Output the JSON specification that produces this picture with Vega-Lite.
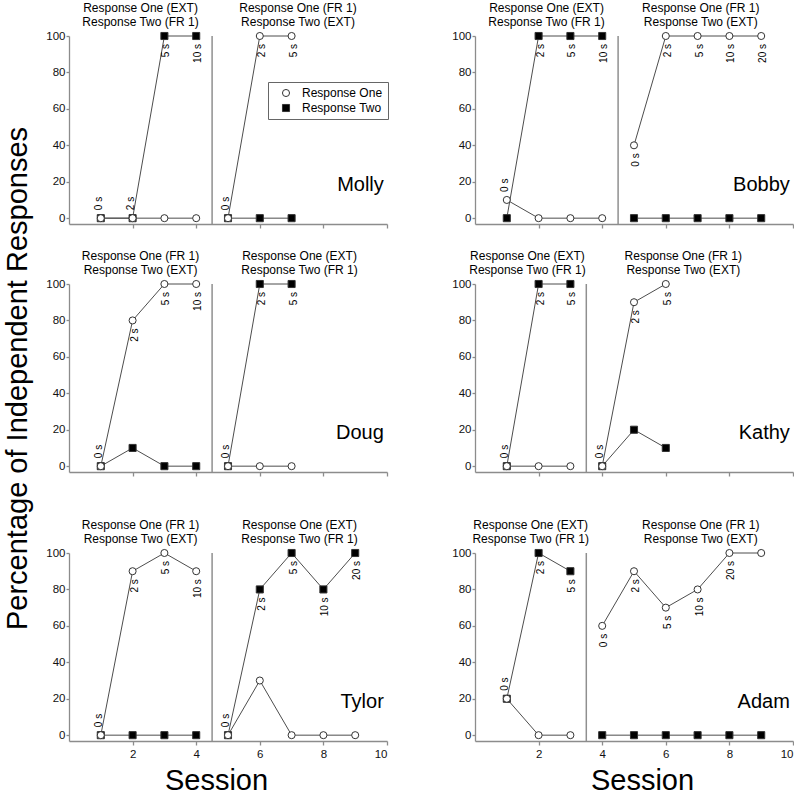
{
  "$schema": "https://vega.github.io/schema/vega-lite/v6.json",
  "background": "white",
  "padding": {"top": 2, "left": 3, "right": 0, "bottom": 0},
  "title": {"text": "Percentage of Independent Responses", "orient": "left", "anchor": "middle", "fontSize": 29, "fontWeight": "normal", "font": "Liberation Sans", "color": "#000000", "offset": 13, "dx": 20},
  "datasets": {
    "phases": [
      {"participant": "Molly", "session": 4.5},
      {"participant": "Bobby", "session": 4.5},
      {"participant": "Doug", "session": 4.5},
      {"participant": "Kathy", "session": 3.5},
      {"participant": "Tylor", "session": 4.5},
      {"participant": "Adam", "session": 3.5}
    ],
    "labels": [
      {"participant": "Molly", "session": 2.25, "text": "Response One (EXT)|Response Two (FR 1)"},
      {"participant": "Molly", "session": 7.2, "text": "Response One (FR 1)|Response Two (EXT)"},
      {"participant": "Bobby", "session": 2.25, "text": "Response One (EXT)|Response Two (FR 1)"},
      {"participant": "Bobby", "session": 7.1, "text": "Response One (FR 1)|Response Two (EXT)"},
      {"participant": "Doug", "session": 2.25, "text": "Response One (FR 1)|Response Two (EXT)"},
      {"participant": "Doug", "session": 7.25, "text": "Response One (EXT)|Response Two (FR 1)"},
      {"participant": "Kathy", "session": 1.65, "text": "Response One (EXT)|Response Two (FR 1)"},
      {"participant": "Kathy", "session": 6.55, "text": "Response One (FR 1)|Response Two (EXT)"},
      {"participant": "Tylor", "session": 2.25, "text": "Response One (FR 1)|Response Two (EXT)"},
      {"participant": "Tylor", "session": 7.25, "text": "Response One (EXT)|Response Two (FR 1)"},
      {"participant": "Adam", "session": 1.75, "text": "Response One (EXT)|Response Two (FR 1)"},
      {"participant": "Adam", "session": 7.1, "text": "Response One (FR 1)|Response Two (EXT)"}
    ],
    "delays": [
      {"participant": "Molly", "session": 1, "value": 0, "label": "0 s", "side": "above"},
      {"participant": "Molly", "session": 2, "value": 0, "label": "2 s", "side": "above"},
      {"participant": "Molly", "session": 3, "value": 100, "label": "5 s", "side": "below"},
      {"participant": "Molly", "session": 4, "value": 100, "label": "10 s", "side": "below"},
      {"participant": "Molly", "session": 5, "value": 0, "label": "0 s", "side": "above"},
      {"participant": "Molly", "session": 6, "value": 100, "label": "2 s", "side": "below"},
      {"participant": "Molly", "session": 7, "value": 100, "label": "5 s", "side": "below"},
      {"participant": "Bobby", "session": 1, "value": 10, "label": "0 s", "side": "above"},
      {"participant": "Bobby", "session": 2, "value": 100, "label": "2 s", "side": "below"},
      {"participant": "Bobby", "session": 3, "value": 100, "label": "5 s", "side": "below"},
      {"participant": "Bobby", "session": 4, "value": 100, "label": "10 s", "side": "below"},
      {"participant": "Bobby", "session": 5, "value": 40, "label": "0 s", "side": "below"},
      {"participant": "Bobby", "session": 6, "value": 100, "label": "2 s", "side": "below"},
      {"participant": "Bobby", "session": 7, "value": 100, "label": "5 s", "side": "below"},
      {"participant": "Bobby", "session": 8, "value": 100, "label": "10 s", "side": "below"},
      {"participant": "Bobby", "session": 9, "value": 100, "label": "20 s", "side": "below"},
      {"participant": "Doug", "session": 1, "value": 0, "label": "0 s", "side": "above"},
      {"participant": "Doug", "session": 2, "value": 80, "label": "2 s", "side": "below"},
      {"participant": "Doug", "session": 3, "value": 100, "label": "5 s", "side": "below"},
      {"participant": "Doug", "session": 4, "value": 100, "label": "10 s", "side": "below"},
      {"participant": "Doug", "session": 5, "value": 0, "label": "0 s", "side": "above"},
      {"participant": "Doug", "session": 6, "value": 100, "label": "2 s", "side": "below"},
      {"participant": "Doug", "session": 7, "value": 100, "label": "5 s", "side": "below"},
      {"participant": "Kathy", "session": 1, "value": 0, "label": "0 s", "side": "above"},
      {"participant": "Kathy", "session": 2, "value": 100, "label": "2 s", "side": "below"},
      {"participant": "Kathy", "session": 3, "value": 100, "label": "5 s", "side": "below"},
      {"participant": "Kathy", "session": 4, "value": 0, "label": "0 s", "side": "above"},
      {"participant": "Kathy", "session": 5, "value": 90, "label": "2 s", "side": "below"},
      {"participant": "Kathy", "session": 6, "value": 100, "label": "5 s", "side": "below"},
      {"participant": "Tylor", "session": 1, "value": 0, "label": "0 s", "side": "above"},
      {"participant": "Tylor", "session": 2, "value": 90, "label": "2 s", "side": "below"},
      {"participant": "Tylor", "session": 3, "value": 100, "label": "5 s", "side": "below"},
      {"participant": "Tylor", "session": 4, "value": 90, "label": "10 s", "side": "below"},
      {"participant": "Tylor", "session": 5, "value": 0, "label": "0 s", "side": "above"},
      {"participant": "Tylor", "session": 6, "value": 80, "label": "2 s", "side": "below"},
      {"participant": "Tylor", "session": 7, "value": 100, "label": "5 s", "side": "below"},
      {"participant": "Tylor", "session": 8, "value": 80, "label": "10 s", "side": "below"},
      {"participant": "Tylor", "session": 9, "value": 100, "label": "20 s", "side": "below"},
      {"participant": "Adam", "session": 1, "value": 20, "label": "0 s", "side": "above"},
      {"participant": "Adam", "session": 2, "value": 100, "label": "2 s", "side": "below"},
      {"participant": "Adam", "session": 3, "value": 90, "label": "5 s", "side": "below"},
      {"participant": "Adam", "session": 4, "value": 60, "label": "0 s", "side": "below"},
      {"participant": "Adam", "session": 5, "value": 90, "label": "2 s", "side": "below"},
      {"participant": "Adam", "session": 6, "value": 70, "label": "5 s", "side": "below"},
      {"participant": "Adam", "session": 7, "value": 80, "label": "10 s", "side": "below"},
      {"participant": "Adam", "session": 8, "value": 100, "label": "20 s", "side": "below"}
    ],
    "points": [
      {"participant": "Molly", "series": "Response Two", "phase": 1, "session": 1, "value": 0},
      {"participant": "Molly", "series": "Response Two", "phase": 1, "session": 2, "value": 0},
      {"participant": "Molly", "series": "Response Two", "phase": 1, "session": 3, "value": 100},
      {"participant": "Molly", "series": "Response Two", "phase": 1, "session": 4, "value": 100},
      {"participant": "Molly", "series": "Response Two", "phase": 2, "session": 5, "value": 0},
      {"participant": "Molly", "series": "Response Two", "phase": 2, "session": 6, "value": 0},
      {"participant": "Molly", "series": "Response Two", "phase": 2, "session": 7, "value": 0},
      {"participant": "Molly", "series": "Response One", "phase": 1, "session": 1, "value": 0},
      {"participant": "Molly", "series": "Response One", "phase": 1, "session": 2, "value": 0},
      {"participant": "Molly", "series": "Response One", "phase": 1, "session": 3, "value": 0},
      {"participant": "Molly", "series": "Response One", "phase": 1, "session": 4, "value": 0},
      {"participant": "Molly", "series": "Response One", "phase": 2, "session": 5, "value": 0},
      {"participant": "Molly", "series": "Response One", "phase": 2, "session": 6, "value": 100},
      {"participant": "Molly", "series": "Response One", "phase": 2, "session": 7, "value": 100},
      {"participant": "Bobby", "series": "Response Two", "phase": 1, "session": 1, "value": 0},
      {"participant": "Bobby", "series": "Response Two", "phase": 1, "session": 2, "value": 100},
      {"participant": "Bobby", "series": "Response Two", "phase": 1, "session": 3, "value": 100},
      {"participant": "Bobby", "series": "Response Two", "phase": 1, "session": 4, "value": 100},
      {"participant": "Bobby", "series": "Response Two", "phase": 2, "session": 5, "value": 0},
      {"participant": "Bobby", "series": "Response Two", "phase": 2, "session": 6, "value": 0},
      {"participant": "Bobby", "series": "Response Two", "phase": 2, "session": 7, "value": 0},
      {"participant": "Bobby", "series": "Response Two", "phase": 2, "session": 8, "value": 0},
      {"participant": "Bobby", "series": "Response Two", "phase": 2, "session": 9, "value": 0},
      {"participant": "Bobby", "series": "Response One", "phase": 1, "session": 1, "value": 10},
      {"participant": "Bobby", "series": "Response One", "phase": 1, "session": 2, "value": 0},
      {"participant": "Bobby", "series": "Response One", "phase": 1, "session": 3, "value": 0},
      {"participant": "Bobby", "series": "Response One", "phase": 1, "session": 4, "value": 0},
      {"participant": "Bobby", "series": "Response One", "phase": 2, "session": 5, "value": 40},
      {"participant": "Bobby", "series": "Response One", "phase": 2, "session": 6, "value": 100},
      {"participant": "Bobby", "series": "Response One", "phase": 2, "session": 7, "value": 100},
      {"participant": "Bobby", "series": "Response One", "phase": 2, "session": 8, "value": 100},
      {"participant": "Bobby", "series": "Response One", "phase": 2, "session": 9, "value": 100},
      {"participant": "Doug", "series": "Response Two", "phase": 1, "session": 1, "value": 0},
      {"participant": "Doug", "series": "Response Two", "phase": 1, "session": 2, "value": 10},
      {"participant": "Doug", "series": "Response Two", "phase": 1, "session": 3, "value": 0},
      {"participant": "Doug", "series": "Response Two", "phase": 1, "session": 4, "value": 0},
      {"participant": "Doug", "series": "Response Two", "phase": 2, "session": 5, "value": 0},
      {"participant": "Doug", "series": "Response Two", "phase": 2, "session": 6, "value": 100},
      {"participant": "Doug", "series": "Response Two", "phase": 2, "session": 7, "value": 100},
      {"participant": "Doug", "series": "Response One", "phase": 1, "session": 1, "value": 0},
      {"participant": "Doug", "series": "Response One", "phase": 1, "session": 2, "value": 80},
      {"participant": "Doug", "series": "Response One", "phase": 1, "session": 3, "value": 100},
      {"participant": "Doug", "series": "Response One", "phase": 1, "session": 4, "value": 100},
      {"participant": "Doug", "series": "Response One", "phase": 2, "session": 5, "value": 0},
      {"participant": "Doug", "series": "Response One", "phase": 2, "session": 6, "value": 0},
      {"participant": "Doug", "series": "Response One", "phase": 2, "session": 7, "value": 0},
      {"participant": "Kathy", "series": "Response Two", "phase": 1, "session": 1, "value": 0},
      {"participant": "Kathy", "series": "Response Two", "phase": 1, "session": 2, "value": 100},
      {"participant": "Kathy", "series": "Response Two", "phase": 1, "session": 3, "value": 100},
      {"participant": "Kathy", "series": "Response Two", "phase": 2, "session": 4, "value": 0},
      {"participant": "Kathy", "series": "Response Two", "phase": 2, "session": 5, "value": 20},
      {"participant": "Kathy", "series": "Response Two", "phase": 2, "session": 6, "value": 10},
      {"participant": "Kathy", "series": "Response One", "phase": 1, "session": 1, "value": 0},
      {"participant": "Kathy", "series": "Response One", "phase": 1, "session": 2, "value": 0},
      {"participant": "Kathy", "series": "Response One", "phase": 1, "session": 3, "value": 0},
      {"participant": "Kathy", "series": "Response One", "phase": 2, "session": 4, "value": 0},
      {"participant": "Kathy", "series": "Response One", "phase": 2, "session": 5, "value": 90},
      {"participant": "Kathy", "series": "Response One", "phase": 2, "session": 6, "value": 100},
      {"participant": "Tylor", "series": "Response Two", "phase": 1, "session": 1, "value": 0},
      {"participant": "Tylor", "series": "Response Two", "phase": 1, "session": 2, "value": 0},
      {"participant": "Tylor", "series": "Response Two", "phase": 1, "session": 3, "value": 0},
      {"participant": "Tylor", "series": "Response Two", "phase": 1, "session": 4, "value": 0},
      {"participant": "Tylor", "series": "Response Two", "phase": 2, "session": 5, "value": 0},
      {"participant": "Tylor", "series": "Response Two", "phase": 2, "session": 6, "value": 80},
      {"participant": "Tylor", "series": "Response Two", "phase": 2, "session": 7, "value": 100},
      {"participant": "Tylor", "series": "Response Two", "phase": 2, "session": 8, "value": 80},
      {"participant": "Tylor", "series": "Response Two", "phase": 2, "session": 9, "value": 100},
      {"participant": "Tylor", "series": "Response One", "phase": 1, "session": 1, "value": 0},
      {"participant": "Tylor", "series": "Response One", "phase": 1, "session": 2, "value": 90},
      {"participant": "Tylor", "series": "Response One", "phase": 1, "session": 3, "value": 100},
      {"participant": "Tylor", "series": "Response One", "phase": 1, "session": 4, "value": 90},
      {"participant": "Tylor", "series": "Response One", "phase": 2, "session": 5, "value": 0},
      {"participant": "Tylor", "series": "Response One", "phase": 2, "session": 6, "value": 30},
      {"participant": "Tylor", "series": "Response One", "phase": 2, "session": 7, "value": 0},
      {"participant": "Tylor", "series": "Response One", "phase": 2, "session": 8, "value": 0},
      {"participant": "Tylor", "series": "Response One", "phase": 2, "session": 9, "value": 0},
      {"participant": "Adam", "series": "Response Two", "phase": 1, "session": 1, "value": 20},
      {"participant": "Adam", "series": "Response Two", "phase": 1, "session": 2, "value": 100},
      {"participant": "Adam", "series": "Response Two", "phase": 1, "session": 3, "value": 90},
      {"participant": "Adam", "series": "Response Two", "phase": 2, "session": 4, "value": 0},
      {"participant": "Adam", "series": "Response Two", "phase": 2, "session": 5, "value": 0},
      {"participant": "Adam", "series": "Response Two", "phase": 2, "session": 6, "value": 0},
      {"participant": "Adam", "series": "Response Two", "phase": 2, "session": 7, "value": 0},
      {"participant": "Adam", "series": "Response Two", "phase": 2, "session": 8, "value": 0},
      {"participant": "Adam", "series": "Response Two", "phase": 2, "session": 9, "value": 0},
      {"participant": "Adam", "series": "Response One", "phase": 1, "session": 1, "value": 20},
      {"participant": "Adam", "series": "Response One", "phase": 1, "session": 2, "value": 0},
      {"participant": "Adam", "series": "Response One", "phase": 1, "session": 3, "value": 0},
      {"participant": "Adam", "series": "Response One", "phase": 2, "session": 4, "value": 60},
      {"participant": "Adam", "series": "Response One", "phase": 2, "session": 5, "value": 90},
      {"participant": "Adam", "series": "Response One", "phase": 2, "session": 6, "value": 70},
      {"participant": "Adam", "series": "Response One", "phase": 2, "session": 7, "value": 80},
      {"participant": "Adam", "series": "Response One", "phase": 2, "session": 8, "value": 100},
      {"participant": "Adam", "series": "Response One", "phase": 2, "session": 9, "value": 100}
    ]
  },
  "spacing": 42,
  "resolve": {"scale": {"fill": "independent", "shape": "independent"}, "legend": {"fill": "independent", "shape": "independent"}},
  "vconcat": [
    {
      "spacing": 21,
      "resolve": {"scale": {"fill": "independent", "shape": "independent"}, "legend": {"fill": "independent", "shape": "independent"}},
      "vconcat": [
        {
          "spacing": 88,
          "bounds": "flush",
          "resolve": {"scale": {"fill": "independent", "shape": "independent"}, "legend": {"fill": "independent", "shape": "independent"}},
          "hconcat": [
            {
              "width": 318, "height": 188,
              "layer": [
                {"data": {"name": "phases"}, "transform": [{"filter": "datum.participant === 'Molly'"}],
                 "mark": {"type": "rule", "color": "#8f8f8f", "strokeWidth": 1.5},
                 "encoding": {
                   "x": {"field": "session", "type": "quantitative", "scale": {"domain": [0, 10], "nice": false}, "axis": {"values": [2, 4, 6, 8, 10], "tickCount": 10, "labels": false, "title": null}},
                   "y": {"datum": 100, "type": "quantitative", "scale": {"domain": [-3.2, 100], "nice": false, "zero": false}, "axis": {"values": [0, 20, 40, 60, 80, 100], "tickCount": 10, "title": null}},
                   "y2": {"datum": -3.2}}},
                {"data": {"name": "points"}, "transform": [{"filter": "datum.participant === 'Molly'"}],
                 "mark": {"type": "line", "color": "#4d4d4d", "strokeWidth": 1},
                 "encoding": {"x": {"field": "session", "type": "quantitative"}, "y": {"field": "value", "type": "quantitative"},
                   "detail": [{"field": "series", "type": "nominal"}, {"field": "phase", "type": "nominal"}]}},
                {"data": {"name": "points"}, "transform": [{"filter": "datum.participant === 'Molly'"}],
                 "mark": {"type": "point", "filled": true, "opacity": 1, "stroke": "#333333", "strokeWidth": 1, "size": 50},
                 "encoding": {"x": {"field": "session", "type": "quantitative"}, "y": {"field": "value", "type": "quantitative"},
                   "shape": {"field": "series", "type": "nominal", "scale": {"domain": ["Response One", "Response Two"], "range": ["circle", "square"]},
                     "legend": {"orient": "none", "legendX": 199, "legendY": 46, "title": null, "strokeColor": "#666666", "fillColor": "#ffffff",
                       "padding": 5, "symbolOffset": 7, "labelOffset": 10, "rowPadding": 3, "symbolSize": 50, "symbolStrokeWidth": 1, "labelFontSize": 12,
                       "labelFont": "Liberation Sans", "labelColor": "#000000",
                       "encode": {"symbols": {"stroke": {"value": "#333333"}, "strokeWidth": {"value": 1}}}}},
                   "fill": {"field": "series", "type": "nominal", "scale": {"domain": ["Response One", "Response Two"], "range": ["#ffffff", "#000000"]},
                     "legend": {"orient": "none", "legendX": 199, "legendY": 46, "title": null, "strokeColor": "#666666", "fillColor": "#ffffff",
                       "padding": 5, "symbolOffset": 7, "labelOffset": 10, "rowPadding": 3, "symbolSize": 50, "symbolStrokeWidth": 1, "labelFontSize": 12,
                       "labelFont": "Liberation Sans", "labelColor": "#000000",
                       "encode": {"symbols": {"stroke": {"value": "#333333"}, "strokeWidth": {"value": 1}}}}}}},
                {"data": {"name": "delays"}, "transform": [{"filter": "datum.participant === 'Molly' && datum.side === 'above'"}],
                 "mark": {"type": "text", "angle": 270, "align": "left", "baseline": "middle", "dx": 8, "dy": -2, "fontSize": 10},
                 "encoding": {"x": {"field": "session", "type": "quantitative"}, "y": {"field": "value", "type": "quantitative"}, "text": {"field": "label", "type": "nominal"}}},
                {"data": {"name": "delays"}, "transform": [{"filter": "datum.participant === 'Molly' && datum.side === 'below'"}],
                 "mark": {"type": "text", "angle": 270, "align": "right", "baseline": "middle", "dx": -8, "dy": 2, "fontSize": 10},
                 "encoding": {"x": {"field": "session", "type": "quantitative"}, "y": {"field": "value", "type": "quantitative"}, "text": {"field": "label", "type": "nominal"}}},
                {"data": {"name": "labels"}, "transform": [{"filter": "datum.participant === 'Molly'"}],
                 "mark": {"type": "text", "fontSize": 12, "lineBreak": "|", "lineHeight": 14, "baseline": "bottom", "dy": -21},
                 "encoding": {"x": {"field": "session", "type": "quantitative"}, "y": {"datum": 100}, "text": {"field": "text", "type": "nominal"}}},
                {"data": {"name": "phases"}, "transform": [{"filter": "datum.participant === 'Molly'"}],
                 "mark": {"type": "text", "fontSize": 20, "align": "right", "baseline": "middle"},
                 "encoding": {"x": {"datum": 9.9}, "y": {"datum": 18}, "text": {"field": "participant", "type": "nominal"}}}
              ]
            },
            {
              "width": 318, "height": 188,
              "layer": [
                {"data": {"name": "phases"}, "transform": [{"filter": "datum.participant === 'Bobby'"}],
                 "mark": {"type": "rule", "color": "#8f8f8f", "strokeWidth": 1.5},
                 "encoding": {
                   "x": {"field": "session", "type": "quantitative", "scale": {"domain": [0, 10], "nice": false}, "axis": {"values": [2, 4, 6, 8, 10], "tickCount": 10, "labels": false, "title": null}},
                   "y": {"datum": 100, "type": "quantitative", "scale": {"domain": [-3.2, 100], "nice": false, "zero": false}, "axis": {"values": [0, 20, 40, 60, 80, 100], "tickCount": 10, "title": null}},
                   "y2": {"datum": -3.2}}},
                {"data": {"name": "points"}, "transform": [{"filter": "datum.participant === 'Bobby'"}],
                 "mark": {"type": "line", "color": "#4d4d4d", "strokeWidth": 1},
                 "encoding": {"x": {"field": "session", "type": "quantitative"}, "y": {"field": "value", "type": "quantitative"},
                   "detail": [{"field": "series", "type": "nominal"}, {"field": "phase", "type": "nominal"}]}},
                {"data": {"name": "points"}, "transform": [{"filter": "datum.participant === 'Bobby'"}],
                 "mark": {"type": "point", "filled": true, "opacity": 1, "stroke": "#333333", "strokeWidth": 1, "size": 50},
                 "encoding": {"x": {"field": "session", "type": "quantitative"}, "y": {"field": "value", "type": "quantitative"},
                   "shape": {"field": "series", "type": "nominal", "scale": {"domain": ["Response One", "Response Two"], "range": ["circle", "square"]}, "legend": null},
                   "fill": {"field": "series", "type": "nominal", "scale": {"domain": ["Response One", "Response Two"], "range": ["#ffffff", "#000000"]}, "legend": null}}},
                {"data": {"name": "delays"}, "transform": [{"filter": "datum.participant === 'Bobby' && datum.side === 'above'"}],
                 "mark": {"type": "text", "angle": 270, "align": "left", "baseline": "middle", "dx": 8, "dy": -2, "fontSize": 10},
                 "encoding": {"x": {"field": "session", "type": "quantitative"}, "y": {"field": "value", "type": "quantitative"}, "text": {"field": "label", "type": "nominal"}}},
                {"data": {"name": "delays"}, "transform": [{"filter": "datum.participant === 'Bobby' && datum.side === 'below'"}],
                 "mark": {"type": "text", "angle": 270, "align": "right", "baseline": "middle", "dx": -8, "dy": 2, "fontSize": 10},
                 "encoding": {"x": {"field": "session", "type": "quantitative"}, "y": {"field": "value", "type": "quantitative"}, "text": {"field": "label", "type": "nominal"}}},
                {"data": {"name": "labels"}, "transform": [{"filter": "datum.participant === 'Bobby'"}],
                 "mark": {"type": "text", "fontSize": 12, "lineBreak": "|", "lineHeight": 14, "baseline": "bottom", "dy": -21},
                 "encoding": {"x": {"field": "session", "type": "quantitative"}, "y": {"datum": 100}, "text": {"field": "text", "type": "nominal"}}},
                {"data": {"name": "phases"}, "transform": [{"filter": "datum.participant === 'Bobby'"}],
                 "mark": {"type": "text", "fontSize": 20, "align": "right", "baseline": "middle"},
                 "encoding": {"x": {"datum": 9.9}, "y": {"datum": 18}, "text": {"field": "participant", "type": "nominal"}}}
              ]
            }
          ]
        },
        {
          "spacing": 88,
          "bounds": "flush",
          "resolve": {"scale": {"fill": "independent", "shape": "independent"}, "legend": {"fill": "independent", "shape": "independent"}},
          "hconcat": [
            {
              "width": 318, "height": 188,
              "layer": [
                {"data": {"name": "phases"}, "transform": [{"filter": "datum.participant === 'Doug'"}],
                 "mark": {"type": "rule", "color": "#8f8f8f", "strokeWidth": 1.5},
                 "encoding": {
                   "x": {"field": "session", "type": "quantitative", "scale": {"domain": [0, 10], "nice": false}, "axis": {"values": [2, 4, 6, 8, 10], "tickCount": 10, "labels": false, "title": null}},
                   "y": {"datum": 100, "type": "quantitative", "scale": {"domain": [-3.2, 100], "nice": false, "zero": false}, "axis": {"values": [0, 20, 40, 60, 80, 100], "tickCount": 10, "title": null}},
                   "y2": {"datum": -3.2}}},
                {"data": {"name": "points"}, "transform": [{"filter": "datum.participant === 'Doug'"}],
                 "mark": {"type": "line", "color": "#4d4d4d", "strokeWidth": 1},
                 "encoding": {"x": {"field": "session", "type": "quantitative"}, "y": {"field": "value", "type": "quantitative"},
                   "detail": [{"field": "series", "type": "nominal"}, {"field": "phase", "type": "nominal"}]}},
                {"data": {"name": "points"}, "transform": [{"filter": "datum.participant === 'Doug'"}],
                 "mark": {"type": "point", "filled": true, "opacity": 1, "stroke": "#333333", "strokeWidth": 1, "size": 50},
                 "encoding": {"x": {"field": "session", "type": "quantitative"}, "y": {"field": "value", "type": "quantitative"},
                   "shape": {"field": "series", "type": "nominal", "scale": {"domain": ["Response One", "Response Two"], "range": ["circle", "square"]}, "legend": null},
                   "fill": {"field": "series", "type": "nominal", "scale": {"domain": ["Response One", "Response Two"], "range": ["#ffffff", "#000000"]}, "legend": null}}},
                {"data": {"name": "delays"}, "transform": [{"filter": "datum.participant === 'Doug' && datum.side === 'above'"}],
                 "mark": {"type": "text", "angle": 270, "align": "left", "baseline": "middle", "dx": 8, "dy": -2, "fontSize": 10},
                 "encoding": {"x": {"field": "session", "type": "quantitative"}, "y": {"field": "value", "type": "quantitative"}, "text": {"field": "label", "type": "nominal"}}},
                {"data": {"name": "delays"}, "transform": [{"filter": "datum.participant === 'Doug' && datum.side === 'below'"}],
                 "mark": {"type": "text", "angle": 270, "align": "right", "baseline": "middle", "dx": -8, "dy": 2, "fontSize": 10},
                 "encoding": {"x": {"field": "session", "type": "quantitative"}, "y": {"field": "value", "type": "quantitative"}, "text": {"field": "label", "type": "nominal"}}},
                {"data": {"name": "labels"}, "transform": [{"filter": "datum.participant === 'Doug'"}],
                 "mark": {"type": "text", "fontSize": 12, "lineBreak": "|", "lineHeight": 14, "baseline": "bottom", "dy": -21},
                 "encoding": {"x": {"field": "session", "type": "quantitative"}, "y": {"datum": 100}, "text": {"field": "text", "type": "nominal"}}},
                {"data": {"name": "phases"}, "transform": [{"filter": "datum.participant === 'Doug'"}],
                 "mark": {"type": "text", "fontSize": 20, "align": "right", "baseline": "middle"},
                 "encoding": {"x": {"datum": 9.9}, "y": {"datum": 18}, "text": {"field": "participant", "type": "nominal"}}}
              ]
            },
            {
              "width": 318, "height": 188,
              "layer": [
                {"data": {"name": "phases"}, "transform": [{"filter": "datum.participant === 'Kathy'"}],
                 "mark": {"type": "rule", "color": "#8f8f8f", "strokeWidth": 1.5},
                 "encoding": {
                   "x": {"field": "session", "type": "quantitative", "scale": {"domain": [0, 10], "nice": false}, "axis": {"values": [2, 4, 6, 8, 10], "tickCount": 10, "labels": false, "title": null}},
                   "y": {"datum": 100, "type": "quantitative", "scale": {"domain": [-3.2, 100], "nice": false, "zero": false}, "axis": {"values": [0, 20, 40, 60, 80, 100], "tickCount": 10, "title": null}},
                   "y2": {"datum": -3.2}}},
                {"data": {"name": "points"}, "transform": [{"filter": "datum.participant === 'Kathy'"}],
                 "mark": {"type": "line", "color": "#4d4d4d", "strokeWidth": 1},
                 "encoding": {"x": {"field": "session", "type": "quantitative"}, "y": {"field": "value", "type": "quantitative"},
                   "detail": [{"field": "series", "type": "nominal"}, {"field": "phase", "type": "nominal"}]}},
                {"data": {"name": "points"}, "transform": [{"filter": "datum.participant === 'Kathy'"}],
                 "mark": {"type": "point", "filled": true, "opacity": 1, "stroke": "#333333", "strokeWidth": 1, "size": 50},
                 "encoding": {"x": {"field": "session", "type": "quantitative"}, "y": {"field": "value", "type": "quantitative"},
                   "shape": {"field": "series", "type": "nominal", "scale": {"domain": ["Response One", "Response Two"], "range": ["circle", "square"]}, "legend": null},
                   "fill": {"field": "series", "type": "nominal", "scale": {"domain": ["Response One", "Response Two"], "range": ["#ffffff", "#000000"]}, "legend": null}}},
                {"data": {"name": "delays"}, "transform": [{"filter": "datum.participant === 'Kathy' && datum.side === 'above'"}],
                 "mark": {"type": "text", "angle": 270, "align": "left", "baseline": "middle", "dx": 8, "dy": -2, "fontSize": 10},
                 "encoding": {"x": {"field": "session", "type": "quantitative"}, "y": {"field": "value", "type": "quantitative"}, "text": {"field": "label", "type": "nominal"}}},
                {"data": {"name": "delays"}, "transform": [{"filter": "datum.participant === 'Kathy' && datum.side === 'below'"}],
                 "mark": {"type": "text", "angle": 270, "align": "right", "baseline": "middle", "dx": -8, "dy": 2, "fontSize": 10},
                 "encoding": {"x": {"field": "session", "type": "quantitative"}, "y": {"field": "value", "type": "quantitative"}, "text": {"field": "label", "type": "nominal"}}},
                {"data": {"name": "labels"}, "transform": [{"filter": "datum.participant === 'Kathy'"}],
                 "mark": {"type": "text", "fontSize": 12, "lineBreak": "|", "lineHeight": 14, "baseline": "bottom", "dy": -21},
                 "encoding": {"x": {"field": "session", "type": "quantitative"}, "y": {"datum": 100}, "text": {"field": "text", "type": "nominal"}}},
                {"data": {"name": "phases"}, "transform": [{"filter": "datum.participant === 'Kathy'"}],
                 "mark": {"type": "text", "fontSize": 20, "align": "right", "baseline": "middle"},
                 "encoding": {"x": {"datum": 9.9}, "y": {"datum": 18}, "text": {"field": "participant", "type": "nominal"}}}
              ]
            }
          ]
        }
      ]
    },
    {
      "spacing": 88,
      "bounds": "flush",
      "resolve": {"scale": {"fill": "independent", "shape": "independent"}, "legend": {"fill": "independent", "shape": "independent"}},
      "hconcat": [
        {
          "width": 318, "height": 188,
          "layer": [
            {"data": {"name": "phases"}, "transform": [{"filter": "datum.participant === 'Tylor'"}],
             "mark": {"type": "rule", "color": "#8f8f8f", "strokeWidth": 1.5},
             "encoding": {
               "x": {"field": "session", "type": "quantitative", "scale": {"domain": [0, 10], "nice": false}, "axis": {"values": [2, 4, 6, 8, 10], "tickCount": 10, "title": "Session", "titleX": 147, "titleY": 48, "titleBaseline": "alphabetic"}},
               "y": {"datum": 100, "type": "quantitative", "scale": {"domain": [-3.2, 100], "nice": false, "zero": false}, "axis": {"values": [0, 20, 40, 60, 80, 100], "tickCount": 10, "title": null}},
               "y2": {"datum": -3.2}}},
            {"data": {"name": "points"}, "transform": [{"filter": "datum.participant === 'Tylor'"}],
             "mark": {"type": "line", "color": "#4d4d4d", "strokeWidth": 1},
             "encoding": {"x": {"field": "session", "type": "quantitative"}, "y": {"field": "value", "type": "quantitative"},
               "detail": [{"field": "series", "type": "nominal"}, {"field": "phase", "type": "nominal"}]}},
            {"data": {"name": "points"}, "transform": [{"filter": "datum.participant === 'Tylor'"}],
             "mark": {"type": "point", "filled": true, "opacity": 1, "stroke": "#333333", "strokeWidth": 1, "size": 50},
             "encoding": {"x": {"field": "session", "type": "quantitative"}, "y": {"field": "value", "type": "quantitative"},
               "shape": {"field": "series", "type": "nominal", "scale": {"domain": ["Response One", "Response Two"], "range": ["circle", "square"]}, "legend": null},
               "fill": {"field": "series", "type": "nominal", "scale": {"domain": ["Response One", "Response Two"], "range": ["#ffffff", "#000000"]}, "legend": null}}},
            {"data": {"name": "delays"}, "transform": [{"filter": "datum.participant === 'Tylor' && datum.side === 'above'"}],
             "mark": {"type": "text", "angle": 270, "align": "left", "baseline": "middle", "dx": 8, "dy": -2, "fontSize": 10},
             "encoding": {"x": {"field": "session", "type": "quantitative"}, "y": {"field": "value", "type": "quantitative"}, "text": {"field": "label", "type": "nominal"}}},
            {"data": {"name": "delays"}, "transform": [{"filter": "datum.participant === 'Tylor' && datum.side === 'below'"}],
             "mark": {"type": "text", "angle": 270, "align": "right", "baseline": "middle", "dx": -8, "dy": 2, "fontSize": 10},
             "encoding": {"x": {"field": "session", "type": "quantitative"}, "y": {"field": "value", "type": "quantitative"}, "text": {"field": "label", "type": "nominal"}}},
            {"data": {"name": "labels"}, "transform": [{"filter": "datum.participant === 'Tylor'"}],
             "mark": {"type": "text", "fontSize": 12, "lineBreak": "|", "lineHeight": 14, "baseline": "bottom", "dy": -21},
             "encoding": {"x": {"field": "session", "type": "quantitative"}, "y": {"datum": 100}, "text": {"field": "text", "type": "nominal"}}},
            {"data": {"name": "phases"}, "transform": [{"filter": "datum.participant === 'Tylor'"}],
             "mark": {"type": "text", "fontSize": 20, "align": "right", "baseline": "middle"},
             "encoding": {"x": {"datum": 9.9}, "y": {"datum": 18}, "text": {"field": "participant", "type": "nominal"}}}
          ]
        },
        {
          "width": 318, "height": 188,
          "layer": [
            {"data": {"name": "phases"}, "transform": [{"filter": "datum.participant === 'Adam'"}],
             "mark": {"type": "rule", "color": "#8f8f8f", "strokeWidth": 1.5},
             "encoding": {
               "x": {"field": "session", "type": "quantitative", "scale": {"domain": [0, 10], "nice": false}, "axis": {"values": [2, 4, 6, 8, 10], "tickCount": 10, "title": "Session", "titleX": 167, "titleY": 48, "titleBaseline": "alphabetic"}},
               "y": {"datum": 100, "type": "quantitative", "scale": {"domain": [-3.2, 100], "nice": false, "zero": false}, "axis": {"values": [0, 20, 40, 60, 80, 100], "tickCount": 10, "title": null}},
               "y2": {"datum": -3.2}}},
            {"data": {"name": "points"}, "transform": [{"filter": "datum.participant === 'Adam'"}],
             "mark": {"type": "line", "color": "#4d4d4d", "strokeWidth": 1},
             "encoding": {"x": {"field": "session", "type": "quantitative"}, "y": {"field": "value", "type": "quantitative"},
               "detail": [{"field": "series", "type": "nominal"}, {"field": "phase", "type": "nominal"}]}},
            {"data": {"name": "points"}, "transform": [{"filter": "datum.participant === 'Adam'"}],
             "mark": {"type": "point", "filled": true, "opacity": 1, "stroke": "#333333", "strokeWidth": 1, "size": 50},
             "encoding": {"x": {"field": "session", "type": "quantitative"}, "y": {"field": "value", "type": "quantitative"},
               "shape": {"field": "series", "type": "nominal", "scale": {"domain": ["Response One", "Response Two"], "range": ["circle", "square"]}, "legend": null},
               "fill": {"field": "series", "type": "nominal", "scale": {"domain": ["Response One", "Response Two"], "range": ["#ffffff", "#000000"]}, "legend": null}}},
            {"data": {"name": "delays"}, "transform": [{"filter": "datum.participant === 'Adam' && datum.side === 'above'"}],
             "mark": {"type": "text", "angle": 270, "align": "left", "baseline": "middle", "dx": 8, "dy": -2, "fontSize": 10},
             "encoding": {"x": {"field": "session", "type": "quantitative"}, "y": {"field": "value", "type": "quantitative"}, "text": {"field": "label", "type": "nominal"}}},
            {"data": {"name": "delays"}, "transform": [{"filter": "datum.participant === 'Adam' && datum.side === 'below'"}],
             "mark": {"type": "text", "angle": 270, "align": "right", "baseline": "middle", "dx": -8, "dy": 2, "fontSize": 10},
             "encoding": {"x": {"field": "session", "type": "quantitative"}, "y": {"field": "value", "type": "quantitative"}, "text": {"field": "label", "type": "nominal"}}},
            {"data": {"name": "labels"}, "transform": [{"filter": "datum.participant === 'Adam'"}],
             "mark": {"type": "text", "fontSize": 12, "lineBreak": "|", "lineHeight": 14, "baseline": "bottom", "dy": -21},
             "encoding": {"x": {"field": "session", "type": "quantitative"}, "y": {"datum": 100}, "text": {"field": "text", "type": "nominal"}}},
            {"data": {"name": "phases"}, "transform": [{"filter": "datum.participant === 'Adam'"}],
             "mark": {"type": "text", "fontSize": 20, "align": "right", "baseline": "middle"},
             "encoding": {"x": {"datum": 9.9}, "y": {"datum": 18}, "text": {"field": "participant", "type": "nominal"}}}
          ]
        }
      ]
    }
  ],
  "config": {
    "font": "Liberation Sans",
    "view": {"stroke": null},
    "axis": {
      "grid": false,
      "labelOverlap": false,
      "domainColor": "#8c8c8c", "domainWidth": 1.3,
      "tickColor": "#8c8c8c", "tickWidth": 1.3,
      "labelFont": "Liberation Sans", "labelFontSize": 11.5, "labelColor": "#111111",
      "titleFont": "Liberation Sans", "titleFontSize": 29, "titleFontWeight": "normal", "titleColor": "#000000"
    },
    "axisX": {"tickSize": 4, "labelPadding": 3},
    "axisY": {"tickSize": 3, "labelPadding": 1},
    "text": {"font": "Liberation Sans", "color": "#000000"}
  }
}
